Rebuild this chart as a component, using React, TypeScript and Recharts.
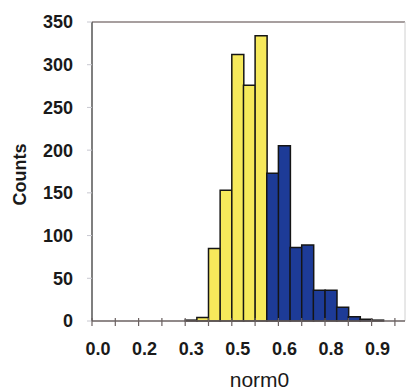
import React from 'react';
import { ComposedChart, Bar, Cell, XAxis, YAxis, ReferenceLine, Label } from 'recharts';

const binCenters = [0.31875, 0.35625, 0.39375, 0.43125, 0.46875, 0.50625, 0.54375, 0.58125, 0.61875, 0.65625, 0.69375, 0.73125, 0.76875, 0.80625, 0.84375, 0.88125, 0.91875];
const yellowCounts = [1, 4, 85, 153, 312, 276, 334];
const blueCounts = [173, 205, 86, 89, 36, 36, 16, 5, 2, 1];
const xTicks = [0, 0.075, 0.15, 0.225, 0.3, 0.375, 0.45, 0.525, 0.6, 0.675, 0.75, 0.825, 0.9, 0.975];
const xTickLabels = ['0.0', '', '0.2', '', '0.3', '', '0.5', '', '0.6', '', '0.8', '', '0.9', ''];
const yTicks = [0, 50, 100, 150, 200, 250, 300, 350];

const allCounts = [...yellowCounts, ...blueCounts];
const data = binCenters.map((x, i) => ({
  x,
  count: allCounts[i],
  group: i < yellowCounts.length ? 'low' : 'high',
}));

const YELLOW = '#f6e95b';
const BLUE = '#1d3b97';
const FONT = 'Liberation Sans, Arial, Helvetica, sans-serif';

const XTick = (props: any) => {
  const { x, y, index } = props;
  return (
    <g>
      <line x1={x} x2={x} y1={y - 3} y2={y + 5} stroke="#6b6262" strokeWidth={1.2} />
      <text x={x + 6} y={y + 34} textAnchor="middle" fontFamily={FONT} fontWeight="bold" fontSize={18} fill="#1a1a1a">
        {xTickLabels[index]}
      </text>
    </g>
  );
};

const XLabel = (props: any) => {
  const vb = props.viewBox;
  return (
    <text x={vb.x + vb.width / 2 + 11} y={vb.y + vb.height - 4} textAnchor="middle" fontFamily={FONT} fontSize={21} fill="#1a1a1a">
      norm0
    </text>
  );
};

const YLabel = (props: any) => {
  const vb = props.viewBox;
  const cx = 26;
  const cy = vb.y + vb.height / 2 + 3;
  return (
    <text x={cx} y={cy} transform={`rotate(-90, ${cx}, ${cy})`} textAnchor="middle" fontFamily={FONT} fontWeight="bold" fontSize={18} fill="#1a1a1a">
      Counts
    </text>
  );
};

export default function App() {
  return (
    <div style={{ position: 'absolute', left: 0, top: 0, background: '#fff' }}>
      <ComposedChart
        width={406}
        height={391}
        data={data}
        margin={{ top: 22, right: 1, bottom: 0, left: 0 }}
        barCategoryGap={0}
        barGap={0}
      >
        <XAxis
          dataKey="x"
          type="number"
          domain={[0, 1.0075]}
          ticks={xTicks}
          interval={0}
          height={70}
          tickSize={0}
          tickMargin={0}
          tickLine={false}
          tick={<XTick />}
          axisLine={{ stroke: '#6b6262', strokeWidth: 1.5 }}
        >
          <Label content={<XLabel />} />
        </XAxis>
        <YAxis
          type="number"
          domain={[0, 350]}
          ticks={yTicks}
          interval={0}
          width={92}
          tickSize={5}
          tickMargin={14}
          tickLine={{ stroke: '#c8c8d0' }}
          axisLine={{ stroke: '#555', strokeWidth: 1.5 }}
          tick={{ fontFamily: FONT, fontWeight: 'bold', fontSize: 18, fill: '#1a1a1a' }}
        >
          <Label content={<YLabel />} />
        </YAxis>
        <ReferenceLine y={350} stroke="#8a7f7f" strokeWidth={1.5} />
        <ReferenceLine x={1.0075} stroke="#d0d0d0" strokeWidth={1} />
        <Bar dataKey="count" isAnimationActive={false} stroke="#151515" strokeWidth={1.5}>
          {data.map((d, i) => (
            <Cell key={i} fill={d.group === 'low' ? YELLOW : BLUE} />
          ))}
        </Bar>
      </ComposedChart>
    </div>
  );
}
